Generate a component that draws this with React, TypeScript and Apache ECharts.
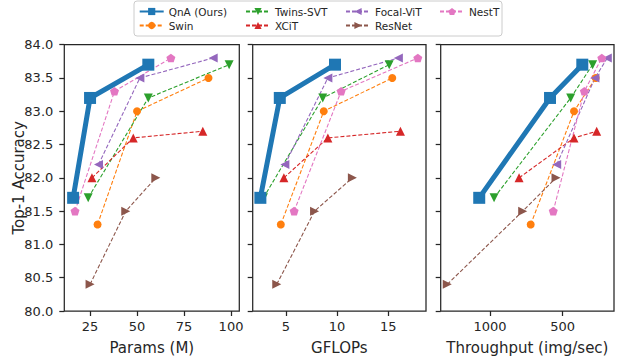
import React, { useEffect, useRef } from "react";
import * as echarts from "echarts";

const models = ["QnA (Ours)", "Swin", "Twins-SVT", "XCiT", "Focal-ViT", "ResNet", "NestT"];
const colors = ["#1f77b4", "#ff7f0e", "#2ca02c", "#d62728", "#9467bd", "#8c564b", "#e377c2"];

const accuracy: number[][] = [
  [81.7, 83.2, 83.7],
  [81.3, 83.0, 83.5],
  [81.7, 83.2, 83.7],
  [82.0, 82.6, 82.7],
  [82.2, 83.5, 83.8],
  [80.4, 81.5, 82.0],
  [81.5, 83.3, 83.8],
];
const params: number[][] = [
  [16, 25, 56],
  [29, 50, 88],
  [24, 56, 99],
  [26, 48, 85],
  [29.5, 51.5, 90.5],
  [25, 44, 60],
  [17, 38, 68],
];
const gflops: number[][] = [
  [2.5, 4.4, 9.8],
  [4.5, 8.7, 15.4],
  [2.8, 8.6, 15.1],
  [4.8, 9.1, 16.2],
  [4.9, 9.1, 16.0],
  [4.1, 7.8, 11.5],
  [5.8, 10.4, 17.9],
];
const throughput: number[][] = [
  [1074, 587, 365],
  [720, 422, 273],
  [972, 445, 294],
  [800, 422, 266],
  [541, 278, 193],
  [1294, 775, 546],
  [565, 351, 231],
];

const paramTicks = [25, 50, 75, 100];
const gflopTicks = [5, 10, 15];
const throughputTicks = [500, 1000];
const xNames = ["Params (M)", "GFLOPs", "Throughput (img/sec)"];

const pentagon = "path://M0,-1L0.951,-0.309L0.588,0.809L-0.588,0.809L-0.951,-0.309Z";
const symbols = ["rect", "circle", "triangle", "triangle", "triangle", "triangle", pentagon];
const rotations = [0, 0, 180, 0, 90, -90, 0];
const sizes: any[] = [12, 8, 9, 9, 9, 9, [9, 8.6]];

const TXT = "#262626";
const FONT = "DejaVu Sans";

export default function App() {
  const ref = useRef<HTMLDivElement>(null);
  useEffect(() => {
    document.body.style.margin = "0";
    const chart = echarts.init(ref.current!, null, { renderer: "svg" });
    const gridLefts = [64.3, 252.7, 440.7];
    const gridWidths = [175, 173.3, 173.3];
    const grids = gridLefts.map((l, i) => ({
      left: l,
      top: 44.7,
      width: gridWidths[i],
      height: 267.3,
      show: true,
      borderColor: TXT,
      borderWidth: 1.25,
      backgroundColor: "#fff",
    }));
    const xRanges = [
      [11.3, 104.4],
      [1.75, 18.7],
      [147, 1339],
    ];
    const xTicks = [paramTicks, gflopTicks, throughputTicks];
    const xAxes = xRanges.map((r, i) => ({
      type: "value",
      gridIndex: i,
      min: r[0],
      max: r[1],
      inverse: i === 2,
      name: xNames[i],
      nameLocation: "middle",
      nameGap: 29,
      nameMoveOverlap: false,
      nameTextStyle: { fontSize: 15, color: TXT, fontFamily: FONT },
      axisLine: { show: false },
      axisTick: { show: true, length: 5, lineStyle: { color: TXT, width: 1.25 }, customValues: xTicks[i] },
      axisLabel: {
        fontSize: 13,
        color: TXT,
        fontFamily: FONT,
        margin: 9,
        customValues: xTicks[i],
        formatter: (v: number) => String(v),
      },
      splitLine: { show: false },
    }));
    const yAxes = [0, 1, 2].map((i) => ({
      type: "value",
      gridIndex: i,
      min: 80,
      max: 84,
      interval: 0.5,
      name: i === 0 ? "Top-1 Accuracy" : "",
      nameLocation: "middle",
      nameGap: 38,
      nameMoveOverlap: false,
      nameTextStyle: { fontSize: 15, color: TXT, fontFamily: FONT },
      axisLine: { show: false },
      axisTick: { show: true, length: 5, lineStyle: { color: TXT, width: 1.25 } },
      axisLabel: {
        show: i === 0,
        fontSize: 13,
        color: TXT,
        fontFamily: FONT,
        margin: 11,
        formatter: (v: number) => v.toFixed(1),
      },
      splitLine: { show: false },
    }));
    const xs = [params, gflops, throughput];
    const series: any[] = [];
    models.forEach((m, k) => {
      for (let g = 0; g < 3; g++) {
        series.push({
          type: "line",
          name: m,
          xAxisIndex: g,
          yAxisIndex: g,
          data: xs[g][k].map((x, j) => [x, accuracy[k][j]]),
          symbol: symbols[k],
          symbolRotate: rotations[k],
          symbolSize: sizes[k],
          showAllSymbol: true,
          color: colors[k],
          itemStyle: { color: colors[k] },
          lineStyle: k === 0 ? { width: 5, color: colors[k] } : { width: 1.1, type: [4, 2], color: colors[k] },
          z: k === 0 ? 3 : 2,
          emphasis: { disabled: true },
        });
      }
    });
    const cols = [
      { left: 138.7, data: ["QnA (Ours)", "Swin"] },
      { left: 245, data: ["Twins-SVT", "XCiT"] },
      { left: 345, data: ["Focal-ViT", "ResNet"] },
      { left: 439, data: ["NestT"] },
    ];
    const legends = cols.map((c) => ({
      orient: "vertical",
      left: c.left,
      top: 6,
      padding: 0,
      data: c.data,
      itemWidth: 24,
      itemHeight: 9,
      itemGap: 3,
      symbolRotate: "inherit",
      textStyle: { fontSize: 10.5, color: TXT, fontFamily: FONT },
    }));
    chart.setOption({
      animation: false,
      textStyle: { fontFamily: FONT },
      graphic: [
        {
          type: "rect",
          shape: { x: 134, y: 1, width: 368, height: 35, r: 3 },
          style: { fill: "#fff", stroke: "#cccccc", lineWidth: 1 },
          z: -1,
        },
      ],
      legend: legends,
      grid: grids,
      xAxis: xAxes,
      yAxis: yAxes,
      series,
    });
    return () => chart.dispose();
  }, []);
  return <div ref={ref} style={{ width: 618, height: 360 }} />;
}
